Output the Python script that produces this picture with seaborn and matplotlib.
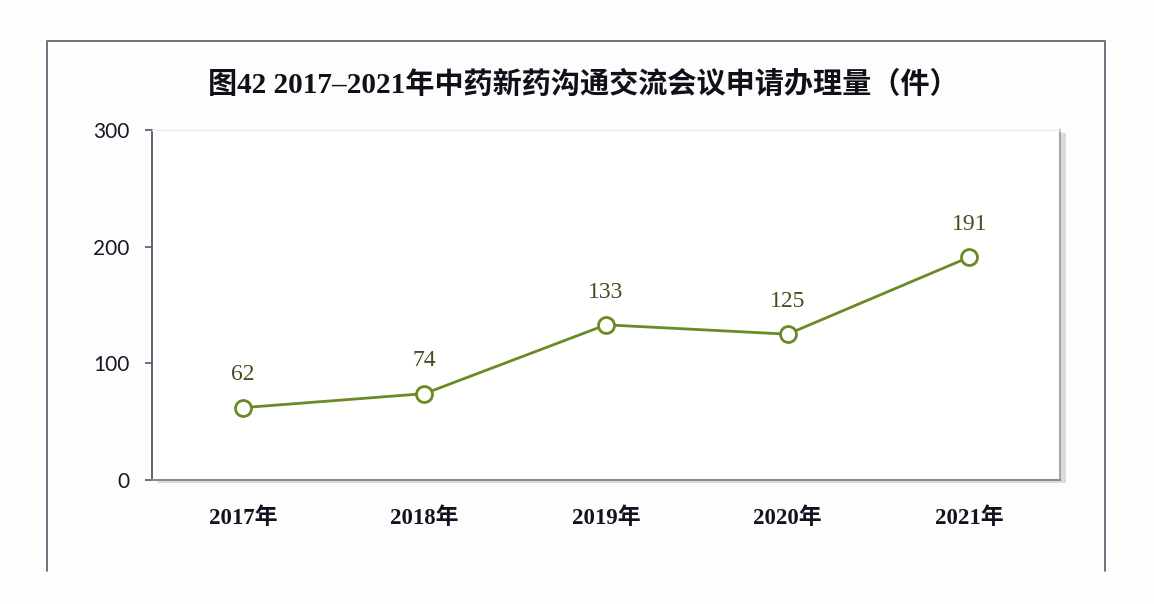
import matplotlib
matplotlib.use("Agg")
import matplotlib.pyplot as plt
import matplotlib.transforms as mtransforms
from matplotlib.patches import Rectangle
from matplotlib.lines import Line2D
import seaborn as sns
import pandas as pd

# ---- data ----
years = ["2017年", "2018年", "2019年", "2020年", "2021年"]
counts = [62, 74, 133, 125, 191]
y_ticks = [0, 100, 200, 300]
title = "图42 2017–2021年中药新药沟通交流会议申请办理量（件）"

sns.set_theme(style="white")
plt.rcParams["font.family"] = ["Liberation Serif", "Noto Sans CJK SC", "DejaVu Sans"]

W, H = 1154, 604
fig = plt.figure(figsize=(W / 100, H / 100), dpi=100)
fig.patch.set_facecolor("#fdfdfe")

ax = fig.add_axes([152 / W, (H - 480) / H, 908 / W, 350 / H])
ax.set_zorder(2)
ax.set_facecolor("white")

df = pd.DataFrame({"year": years, "count": counts})
df["pos"] = range(len(df))
green = "#6a8a22"
sns.lineplot(data=df, x="pos", y="count", ax=ax, color=green, linewidth=2.0,
             marker="o", markersize=11.5, markerfacecolor="white",
             markeredgecolor=green, markeredgewidth=2.0, zorder=3)

for xp, v in zip(df["pos"], df["count"]):
    ax.annotate(str(v), (xp, v), xytext=(0, 16), textcoords="offset points",
                ha="center", va="bottom", fontsize=17, color="#4a4a22",
                family=["Liberation Serif", "Noto Sans CJK SC"])

ax.set_xlim(-0.5, len(years) - 0.5)
ax.set_ylim(0, 300)
ax.set_xticks(list(df["pos"]))
ax.set_xticklabels(years, fontsize=16.5, fontweight="bold", color="#15121f",
                   family=["Liberation Serif", "Noto Sans CJK SC"])
ax.set_yticks(y_ticks)
ax.set_yticklabels([str(t) for t in y_ticks], fontsize=15, color="#1a1626",
                   family=["Lato", "DejaVu Sans"])
ax.tick_params(axis="x", length=0, pad=20)
ax.tick_params(axis="y", direction="out", length=5, width=1.2, color="#5b5468",
               left=True, pad=11)
ax.set_xlabel("")
ax.set_ylabel("")
ax.grid(False)

ax.spines["left"].set_color("#5b5468")
ax.spines["left"].set_linewidth(1.3)
ax.spines["bottom"].set_color("#8c8c90")
ax.spines["bottom"].set_linewidth(1.5)
ax.spines["right"].set_color("#a8a8ac")
ax.spines["right"].set_linewidth(1.5)
ax.spines["top"].set_color("#ececf0")
ax.spines["top"].set_linewidth(1.0)

# shadow behind plot area
off = mtransforms.offset_copy(ax.transAxes, fig=fig, x=3, y=-3, units="dots")
shadow = Rectangle((0.003, 0), 1, 1, transform=off, facecolor="#dcdae0",
                   edgecolor="none", zorder=1)
fig.add_artist(shadow)

# outer frame (left, top, right)
fx0, fx1, fy0, fy1 = 47 / W, 1105 / W, 1 - 571 / H, 1 - 41 / H
fig.add_artist(Line2D([fx0, fx0, fx1, fx1], [fy0, fy1, fy1, fy0],
                      transform=fig.transFigure, color="#6a6478", linewidth=1.3,
                      zorder=0))

fig.text(583 / W, 1 - 85 / H, title, ha="center", va="center", fontsize=21,
         fontweight="bold", color="#111018",
         family=["Liberation Serif", "Noto Sans CJK SC"])

fig.savefig("out.png", dpi=100, facecolor=fig.get_facecolor())
